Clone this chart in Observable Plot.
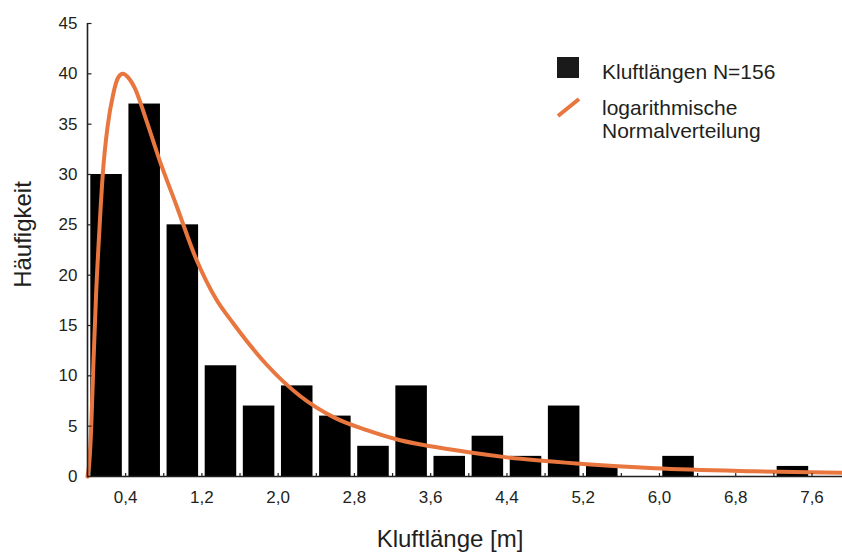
<!DOCTYPE html>
<html>
<head>
<meta charset="utf-8">
<script src="https://cdn.jsdelivr.net/npm/d3@7"></script>
<script src="https://cdn.jsdelivr.net/npm/@observablehq/plot@0.6"></script>
<style>
  html, body { margin: 0; padding: 0; background: #fff; }
  #wrap { position: relative; width: 842px; height: 553px; font-family: "Liberation Sans", Arial, Helvetica, sans-serif; color: #231f20; }
  #legend { position: absolute; left: 0; top: 0; }
  .lg { position: absolute; white-space: nowrap; font-size: 21px; }
</style>
</head>
<body>
<div id="wrap">
  <div id="chart"></div>
  <div id="legend">
    <div style="position:absolute;left:557px;top:57px;width:22px;height:21px;background:#1a1a1a"></div>
    <div class="lg" style="left:602px;top:61px;line-height:21px">Kluftlängen N=156</div>
    <svg style="position:absolute;left:556px;top:97px" width="26" height="22"><line x1="2" y1="19" x2="23" y2="2" stroke="#E8763E" stroke-width="4"/></svg>
    <div class="lg" style="left:602px;top:96px;line-height:23px">logarithmische<br>Normalverteilung</div>
  </div>
</div>
<script>
// Histogram bins (lower edges, m) and counts
const binStart = [0, 0.4, 0.8, 1.2, 1.6, 2.0, 2.4, 2.8, 3.2, 3.6, 4.0, 4.4, 4.8, 5.2, 5.6, 6.0, 6.4, 6.8, 7.2, 7.6];
const counts   = [30, 37, 25, 11, 7, 9, 6, 3, 9, 2, 4, 2, 7, 1, 0, 2, 0, 0, 1, 0];
const binWidth = 0.4;

// Log-normal curve, points
const curveX = [0, 0.02, 0.039, 0.063, 0.09, 0.126, 0.16, 0.21, 0.27, 0.32, 0.37, 0.43, 0.495, 0.62, 0.76, 0.93, 1.14, 1.35, 1.53, 1.88, 2.23, 2.58, 2.93, 3.28, 3.6, 4.0, 4.4, 5.2, 5.95, 7.0, 7.92];
const curveY = [0, 1.5, 4.9, 11.5, 18.1, 24.7, 30, 34.7, 38, 39.6, 40, 39.6, 38.6, 35.3, 31.3, 27.0, 21.6, 17.6, 15.2, 11.1, 8.0, 5.9, 4.6, 3.6, 3.0, 2.4, 1.9, 1.25, 0.82, 0.52, 0.36];

// Ticks
const yTicks = [0, 5, 10, 15, 20, 25, 30, 35, 40, 45];
const xTickMarks = [0.4, 0.8, 1.2, 1.6, 2.0, 2.4, 2.8, 3.2, 3.6, 4.0, 4.4, 4.8, 5.2, 5.6, 6.0, 6.4, 6.8, 7.2, 7.6];
const xTickLabels = [0.4, 1.2, 2.0, 2.8, 3.6, 4.4, 5.2, 6.0, 6.8, 7.6];

const bars = binStart.map((x, i) => ({x1: x, x2: x + binWidth, y: counts[i]}));
const curve = curveX.map((x, i) => ({x, y: curveY[i]}));
const fmt = d => d.toFixed(1).replace(".", ",");
const ink = "#231f20";

const chart = Plot.plot({
  width: 842,
  height: 553,
  marginLeft: 87,
  marginRight: 0,
  marginTop: 23,
  marginBottom: 77,
  style: {fontFamily: '"Liberation Sans", Arial, Helvetica, sans-serif', color: ink, background: "#fff"},
  x: {domain: [0, 7.92], axis: null},
  y: {domain: [0, 45], axis: null},
  marks: [
    Plot.rectY(bars, {x1: "x1", x2: "x2", y: "y", fill: "#000", insetLeft: 3.3, insetRight: 3.3}),
    Plot.line(curve, {x: "x", y: "y", stroke: "#E8763E", strokeWidth: 4, curve: "monotone-x"}),
    Plot.ruleX([0], {y1: 0, y2: 45, stroke: ink, strokeWidth: 1.6}),
    Plot.ruleY([0], {stroke: ink, strokeWidth: 1.6}),
    Plot.ruleY(yTicks, {y: d => d, x1: 0, x2: 0, insetRight: -4.5, stroke: ink, strokeWidth: 1.2}),
    Plot.ruleX(xTickMarks, {x: d => d, y1: 0, y2: 0, insetTop: -3, stroke: ink, strokeWidth: 1.2}),
    Plot.text(yTicks, {x: 0, y: d => d, text: d => String(d), textAnchor: "end", lineAnchor: "middle", dx: -10, fontSize: 17, fill: ink}),
    Plot.text(xTickLabels, {x: d => d, y: 0, text: fmt, textAnchor: "middle", lineAnchor: "middle", dy: 21.5, fontSize: 17, fill: ink}),
    Plot.text(["Kluftlänge [m]"], {frameAnchor: "bottom", textAnchor: "middle", lineAnchor: "middle", dx: -15, dy: 63, fontSize: 24, fill: ink}),
    Plot.text(["Häufigkeit"], {frameAnchor: "left", textAnchor: "middle", lineAnchor: "middle", rotate: -90, dx: -64, dy: -15.5, fontSize: 24, fill: ink})
  ]
});
document.getElementById("chart").appendChild(chart);
</script>
</body>
</html>
